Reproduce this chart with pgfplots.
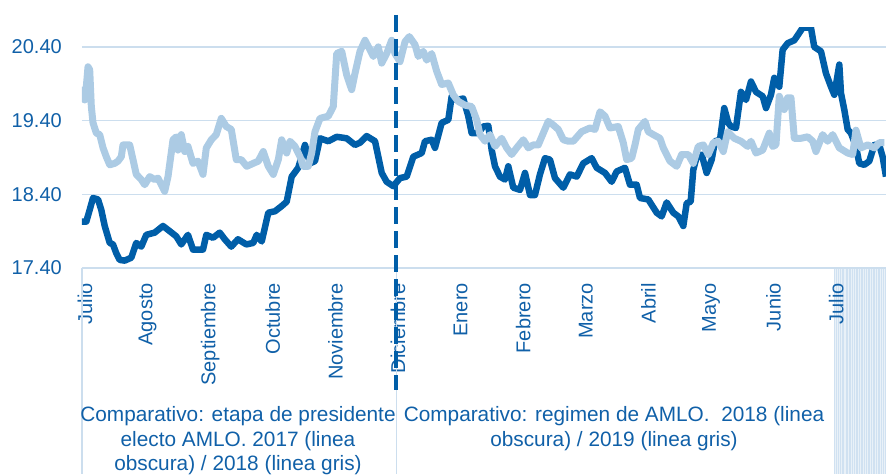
\documentclass[border=0pt]{standalone}
\usepackage{pgfplots}
\pgfplotsset{compat=1.18}
\usepackage{fontspec}
\setmainfont{Liberation Sans}
\definecolor{dkblue}{RGB}{0,94,168}
\definecolor{ltblue}{RGB}{172,203,228}
\definecolor{txtc}{RGB}{16,96,168}
\definecolor{gridc}{RGB}{204,222,238}
\definecolor{hatchc}{RGB}{208,225,241}
\newcommand\cf{\fontsize{20}{24}\selectfont}
\newcommand\bfnt{\fontsize{20.8}{24}\selectfont}
\begin{document}
\begin{tikzpicture}
% shaded strip in the category area (axis box starts at 0,0)
\fill[hatchc] (752pt,0) rectangle (804pt,-206pt);
\foreach \i in {1,3.5,5,7.5,10,11.5,14,17,19.5,21,24,26.5,29,31,33.5,36,38,41,43.5,46,48,50.5}
  \draw[white, opacity=0.55, line width=0.5pt] (752pt+\i pt,0) -- ++(0,-206pt);
\begin{axis}[scale only axis, width=804pt, height=241pt,
  at={(0,0)}, anchor=south west,
  xmin=-0.048, xmax=12.796, ymin=17.4, ymax=20.67,
  axis line style={draw=none},
  ytick={17.4,18.4,19.4,20.4}, yticklabels={17.40,18.40,19.40,20.40},
  xtick={0,...,12},
  xticklabels={Julio,Agosto,Septiembre,Octubre,Noviembre,Diciembre,Enero,Febrero,Marzo,Abril,Mayo,Junio,Julio},
  major tick length=0pt,
  ymajorgrids, grid style={draw=gridc, line width=1.5pt},
  tick label style={font=\cf, text=txtc},
  yticklabel style={anchor=east, inner sep=0pt},
  yticklabel shift=20pt,
  xticklabel style={rotate=90, anchor=east, inner sep=0pt},
  xticklabel shift=15pt,
]
% 2017-2018 / 2018-2019 (linea obscura)
\addplot[dkblue, line width=6.5pt, line join=round] coordinates {
(-0.048,18.03) (0.021,18.03) (0.075,18.19) (0.128,18.35) (0.208,18.33) (0.260,18.19) (0.315,17.97) (0.395,17.74) (0.447,17.72) (0.500,17.60) (0.554,17.51) (0.634,17.50) (0.740,17.54) (0.819,17.74) (0.899,17.69) (0.979,17.85) (1.113,17.88) (1.246,17.97) (1.353,17.90) (1.458,17.83) (1.538,17.72) (1.645,17.85) (1.725,17.65) (1.885,17.65) (1.938,17.85) (2.045,17.81) (2.152,17.88) (2.232,17.79) (2.337,17.69) (2.444,17.79) (2.577,17.72) (2.688,17.74) (2.743,17.85) (2.823,17.76) (2.928,18.15) (3.035,18.17) (3.142,18.24) (3.222,18.30) (3.302,18.64) (3.407,18.76) (3.514,19.07) (3.594,18.82) (3.674,18.85) (3.754,19.16) (3.887,19.12) (4.021,19.18) (4.180,19.16) (4.313,19.07) (4.393,19.10) (4.500,19.19) (4.633,19.12) (4.740,18.69) (4.819,18.57) (4.925,18.51) (5.032,18.62) (5.139,18.64) (5.244,18.91) (5.379,18.96) (5.431,19.12) (5.538,19.14) (5.591,19.03) (5.698,19.37) (5.804,19.41) (5.858,19.73) (5.938,19.68) (6.043,19.70) (6.123,19.46) (6.177,19.23) (6.283,19.23) (6.363,19.32) (6.443,19.33) (6.497,19.00) (6.550,18.78) (6.629,18.64) (6.709,18.60) (6.762,18.78) (6.842,18.49) (6.949,18.46) (7.029,18.69) (7.109,18.39) (7.188,18.39) (7.268,18.67) (7.348,18.89) (7.428,18.87) (7.508,18.62) (7.641,18.49) (7.748,18.67) (7.855,18.64) (7.960,18.82) (8.094,18.89) (8.174,18.76) (8.307,18.69) (8.414,18.57) (8.494,18.71) (8.626,18.76) (8.706,18.53) (8.813,18.53) (8.866,18.35) (8.998,18.33) (9.133,18.15) (9.212,18.10) (9.292,18.29) (9.398,18.15) (9.478,18.10) (9.558,17.97) (9.612,18.28) (9.676,18.30) (9.717,18.73) (9.772,18.91) (9.851,18.94) (9.931,18.69) (10.011,18.87) (10.064,19.12) (10.144,19.14) (10.212,19.57) (10.276,19.37) (10.319,19.32) (10.399,19.30) (10.479,19.79) (10.559,19.68) (10.639,19.93) (10.719,19.79) (10.826,19.73) (10.879,19.57) (10.958,19.75) (11.011,19.98) (11.091,19.86) (11.145,20.36) (11.225,20.45) (11.331,20.49) (11.411,20.59) (11.465,20.66) (11.597,20.66) (11.650,20.40) (11.757,20.34) (11.837,20.04) (11.917,19.86) (11.970,19.75) (12.050,20.16) (12.077,19.77) (12.129,19.55) (12.184,19.28) (12.236,19.23) (12.316,19.05) (12.369,18.82) (12.449,18.80) (12.529,18.85) (12.609,19.07) (12.688,19.07) (12.742,18.91) (12.796,18.64)};
% 2018 / 2019 (linea gris)
\addplot[ltblue, line width=7pt, line join=round] coordinates {
(-0.048,19.86) (-0.005,19.68) (0.021,19.86) (0.048,20.13) (0.075,20.09) (0.101,19.59) (0.128,19.37) (0.181,19.23) (0.235,19.21) (0.288,19.03) (0.340,18.91) (0.395,18.80) (0.474,18.82) (0.527,18.85) (0.580,18.91) (0.607,19.07) (0.714,19.07) (0.767,18.87) (0.819,18.67) (0.899,18.60) (0.954,18.53) (1.034,18.64) (1.113,18.60) (1.166,18.62) (1.219,18.53) (1.273,18.44) (1.326,18.64) (1.406,19.14) (1.458,19.18) (1.486,19.00) (1.538,19.21) (1.593,18.98) (1.645,19.05) (1.725,18.82) (1.805,18.85) (1.885,18.67) (1.938,19.03) (2.018,19.14) (2.097,19.21) (2.177,19.43) (2.257,19.32) (2.337,19.28) (2.417,18.87) (2.497,18.87) (2.583,18.78) (2.688,18.82) (2.768,18.85) (2.848,18.98) (2.928,18.78) (3.008,18.67) (3.088,18.87) (3.142,19.14) (3.222,18.96) (3.275,19.12) (3.355,19.05) (3.435,18.91) (3.487,18.78) (3.567,18.78) (3.621,18.96) (3.674,19.25) (3.754,19.43) (3.887,19.46) (3.966,19.59) (4.021,20.31) (4.101,20.34) (4.180,20.02) (4.260,19.82) (4.313,20.04) (4.393,20.34) (4.473,20.49) (4.553,20.36) (4.606,20.27) (4.685,20.40) (4.740,20.18) (4.819,20.31) (4.899,20.49) (4.952,20.31) (5.032,20.20) (5.112,20.47) (5.181,20.54) (5.272,20.43) (5.324,20.27) (5.404,20.34) (5.458,20.22) (5.538,20.31) (5.618,20.07) (5.698,19.89) (5.804,19.91) (5.883,19.75) (5.963,19.66) (6.070,19.61) (6.177,19.59) (6.257,19.41) (6.310,19.21) (6.390,19.12) (6.470,19.21) (6.550,19.05) (6.656,19.16) (6.736,19.03) (6.816,18.94) (6.896,19.03) (7.002,19.14) (7.082,19.03) (7.161,19.07) (7.241,19.07) (7.321,19.23) (7.401,19.39) (7.481,19.34) (7.561,19.28) (7.641,19.14) (7.721,19.12) (7.800,19.12) (7.934,19.25) (8.067,19.30) (8.147,19.28) (8.227,19.52) (8.307,19.46) (8.387,19.30) (8.519,19.32) (8.599,19.10) (8.653,18.87) (8.733,18.89) (8.786,19.07) (8.839,19.28) (8.946,19.39) (8.998,19.25) (9.078,19.21) (9.185,19.16) (9.238,19.03) (9.345,18.85) (9.452,18.78) (9.532,18.94) (9.637,18.94) (9.717,18.82) (9.797,19.05) (9.877,19.07) (9.957,18.94) (10.037,19.10) (10.117,19.12) (10.197,18.98) (10.267,19.25) (10.372,19.16) (10.479,19.12) (10.586,19.05) (10.639,19.12) (10.719,18.96) (10.826,19.00) (10.931,19.23) (10.985,19.05) (11.038,19.07) (11.091,19.73) (11.171,19.55) (11.225,19.71) (11.278,19.71) (11.331,19.16) (11.438,19.16) (11.545,19.18) (11.625,19.12) (11.677,18.98) (11.784,19.21) (11.864,19.12) (11.944,19.21) (12.050,19.03) (12.184,18.96) (12.264,18.94) (12.316,19.27) (12.396,19.03) (12.503,19.07) (12.609,19.03) (12.688,19.10) (12.768,19.10)};
\coordinate (SW) at (rel axis cs:0,0);
\coordinate (NE) at (rel axis cs:1,1);
\coordinate (D) at (axis cs:4.97,17.4);
\end{axis}
% category area below the axis
\draw[gridc, line width=1.5pt] (SW) -- ++(0,-206pt);
\draw[gridc, line width=1pt] (D) -- ++(0,-206pt);
\draw[dkblue, line width=4.5pt, dash pattern=on 17pt off 7pt] ([yshift=253pt]D) -- ([yshift=-122pt]D);
\node[anchor=base, text=txtc, font=\bfnt, inner sep=0pt] at ([xshift=156pt,yshift=-153.7pt]SW) {Comparativo: etapa de presidente};
\node[anchor=base, text=txtc, font=\bfnt, inner sep=0pt] at ([xshift=156pt,yshift=-178.5pt]SW) {electo AMLO. 2017 (linea};
\node[anchor=base, text=txtc, font=\bfnt, inner sep=0pt] at ([xshift=156pt,yshift=-202pt]SW) {obscura) / 2018 (linea gris)};
\node[anchor=base, text=txtc, font=\bfnt, inner sep=0pt] at ([xshift=532pt,yshift=-153.7pt]SW) {Comparativo: regimen de AMLO.~ 2018 (linea};
\node[anchor=base, text=txtc, font=\bfnt, inner sep=0pt] at ([xshift=532pt,yshift=-178.5pt]SW) {obscura) / 2019 (linea gris)};
\pgfresetboundingbox
\path ([xshift=-82pt,yshift=-206pt]SW) rectangle ([yshift=27pt]NE);
\end{tikzpicture}
\end{document}
